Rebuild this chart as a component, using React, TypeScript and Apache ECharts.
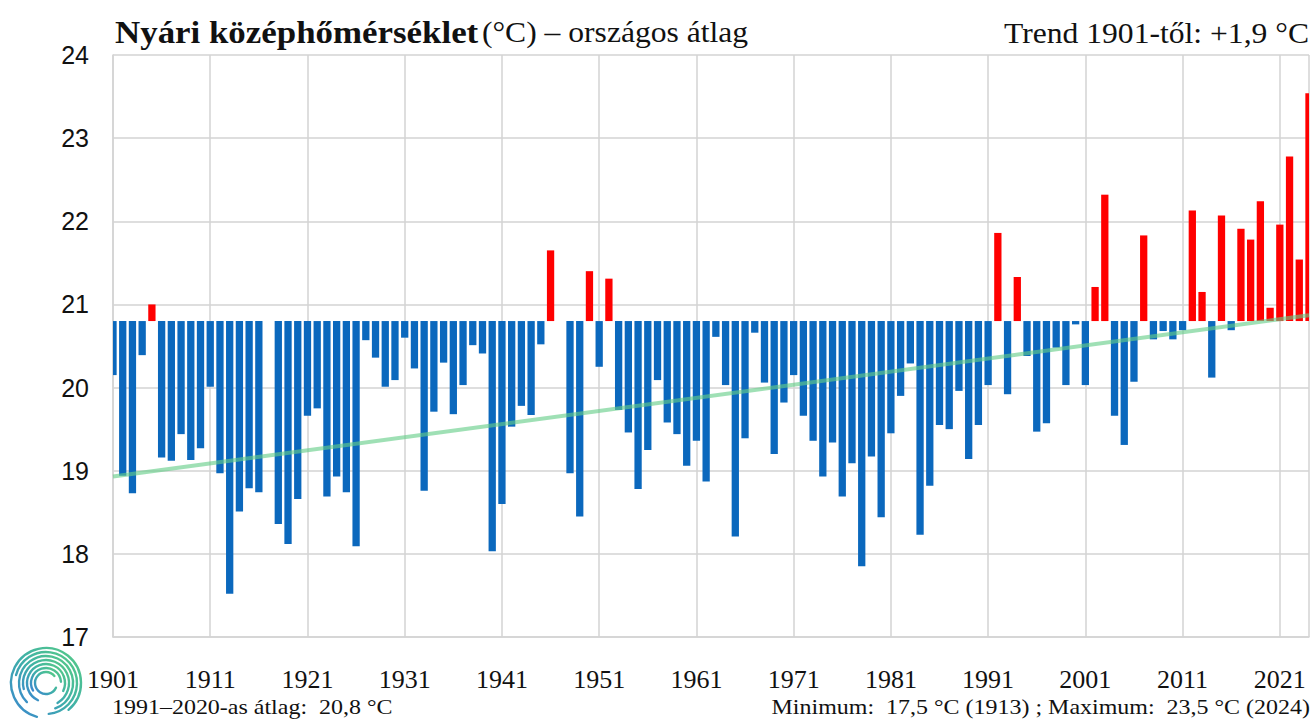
import { useEffect, useRef } from "react";
import * as echarts from "echarts";

// ---- data ----
const FIRST_YEAR = 1901;
const BASELINE = 20.8; // 1991–2020 average
const Y_MIN = 17;
const Y_MAX = 24;
const Y_STEP = 1;

const temps1901s = [20.15, 18.94, 18.73, 20.39, 21.0, 19.16, 19.12, 19.44, 19.13, 19.27];
const temps1911s = [20.01, 18.97, 17.52, 18.51, 18.79, 18.74, 20.8, 18.36, 18.12, 18.66];
const temps1921s = [19.66, 19.75, 18.69, 18.93, 18.74, 18.09, 20.57, 20.36, 20.01, 20.09];
const temps1931s = [20.6, 20.23, 18.76, 19.71, 20.3, 19.68, 20.03, 20.51, 20.41, 18.03];
const temps1941s = [18.6, 19.53, 19.78, 19.67, 20.52, 21.65, 20.8, 18.97, 18.45, 21.4];
const temps1951s = [20.25, 21.31, 19.73, 19.46, 18.78, 19.25, 20.09, 19.58, 19.44, 19.06];
const temps1961s = [19.36, 18.87, 20.61, 20.03, 18.21, 19.39, 20.66, 20.06, 19.2, 19.82];
const temps1971s = [20.15, 19.66, 19.36, 18.93, 19.34, 18.69, 19.09, 17.85, 19.17, 18.44];
const temps1981s = [19.45, 19.9, 20.29, 18.23, 18.82, 19.55, 19.5, 19.96, 19.14, 19.55];
const temps1991s = [20.03, 21.86, 19.92, 21.33, 20.38, 19.47, 19.57, 20.48, 20.03, 20.76];
const temps2001s = [20.03, 21.21, 22.32, 19.66, 19.31, 20.07, 21.83, 20.58, 20.68, 20.58];
const temps2011s = [20.69, 22.13, 21.15, 20.12, 22.07, 20.69, 21.91, 21.78, 22.24, 20.96];
const temps2021s = [21.96, 22.78, 21.54, 23.54];

const summerTemps = [
  ...temps1901s, ...temps1911s, ...temps1921s, ...temps1931s, ...temps1941s,
  ...temps1951s, ...temps1961s, ...temps1971s, ...temps1981s, ...temps1991s,
  ...temps2001s, ...temps2011s, ...temps2021s,
];
const years = summerTemps.map((_, i) => String(FIRST_YEAR + i));

const trendStart = 18.93; // 1901
const trendEnd = 20.87; // 2024

const titleBold = "Nyári középhőmérséklet";
const titleRest = "(°C) – országos átlag";
const trendText = "Trend 1901-től: +1,9 °C";
const avgText = "1991–2020-as átlag:  20,8 °C";
const extremesText = "Minimum:  17,5 °C (1913) ; Maximum:  23,5 °C (2024)";

// ---- styles ----
const SERIF = "'Liberation Serif', 'Times New Roman', serif";
const SANS = "'Liberation Sans', Arial, sans-serif";
const BLUE = "#0b68bd";
const RED = "#ff0000";
const GRID = "#d3d3d3";
const TEXT = "#111111";
const STRETCH = 1.09;

const rad = (d: number) => (d * Math.PI) / 180;

function logoArcs() {
  const cx = 46;
  const cy = 683;
  const grad = () =>
    new echarts.graphic.LinearGradient(0, 1, 1, 0, [
      { offset: 0, color: "#3a86cf" },
      { offset: 0.5, color: "#3fb0a8" },
      { offset: 1, color: "#57cc84" },
    ]);
  const arcs = [
    { r: 11, s: 25, e: 320 },
    { r: 15, s: 150, e: 355 },
    { r: 19, s: 115, e: 385 },
    { r: 23, s: 165, e: 420 },
    { r: 27, s: 135, e: 430 },
    { r: 31, s: 195, e: 445 },
    { r: 35, s: 105, e: 410 },
  ];
  return arcs.map((a) => ({
    type: "arc",
    shape: { cx, cy, r: a.r, startAngle: rad(a.s), endAngle: rad(a.e), clockwise: true },
    style: { stroke: grad(), lineWidth: 2.4, fill: "none", lineCap: "round" },
    z: 10,
  }));
}

export default function App() {
  const ref = useRef<HTMLDivElement>(null);

  useEffect(() => {
    if (!ref.current) return;
    const chart = echarts.init(ref.current, undefined, { renderer: "svg" });

    const renderItem = (_params: any, api: any) => {
      const idx = api.value(0);
      const v = api.value(1);
      const top = api.coord([idx, v]);
      const base = api.coord([idx, BASELINE]);
      const w = api.size([1, 0])[0] * 0.75;
      return {
        type: "rect",
        shape: {
          x: top[0] - w / 2,
          y: Math.min(top[1], base[1]),
          width: w,
          height: Math.abs(base[1] - top[1]),
        },
        style: { fill: v >= BASELINE ? RED : BLUE },
      };
    };

    const option: any = {
      animation: false,
      backgroundColor: "#ffffff",
      grid: { left: 113, right: 6, top: 55, bottom: 83 },
      xAxis: {
        type: "category",
        data: years,
        boundaryGap: false,
        axisLine: { show: true, lineStyle: { color: GRID, width: 1.5 } },
        axisTick: { show: false },
        axisLabel: {
          interval: (i: number) => i % 10 === 0,
          fontFamily: SERIF,
          fontSize: 26,
          color: TEXT,
          margin: 29,
        },
        splitLine: {
          show: true,
          interval: (i: number) => i % 10 === 0 || i === years.length - 1,
          lineStyle: { color: GRID, width: 1.5 },
        },
      },
      yAxis: {
        type: "value",
        min: Y_MIN,
        max: Y_MAX,
        interval: Y_STEP,
        axisLine: { show: true, lineStyle: { color: GRID, width: 1.5 } },
        axisTick: { show: false },
        axisLabel: { fontFamily: SANS, fontSize: 25, color: TEXT, margin: 24 },
        splitLine: { show: true, lineStyle: { color: GRID, width: 1.5 } },
      },
      series: [
        {
          type: "custom",
          clip: true,
          renderItem,
          data: summerTemps.map((v, i) => [i, v]),
          encode: { x: 0, y: 1 },
          z: 2,
        },
        {
          type: "line",
          data: [
            [years[0], trendStart],
            [years[years.length - 1], trendEnd],
          ],
          symbol: "none",
          lineStyle: { color: "rgba(100,205,135,0.62)", width: 4 },
          z: 3,
        },
      ],
      graphic: [
        {
          type: "text",
          x: 115,
          y: 32,
          scaleX: STRETCH,
          style: {
            text: `{b|${titleBold}} {r|${titleRest}}`,
            align: "left",
            verticalAlign: "middle",
            rich: {
              b: { fontFamily: SERIF, fontWeight: "bold", fontSize: 32, fill: TEXT },
              r: { fontFamily: SERIF, fontSize: 29, fill: TEXT },
            },
          },
        },
        {
          type: "text",
          x: 1309,
          y: 33,
          scaleX: STRETCH,
          style: {
            text: trendText,
            align: "right",
            verticalAlign: "middle",
            fontFamily: SERIF,
            fontSize: 29,
            fill: TEXT,
          },
        },
        {
          type: "text",
          x: 112,
          y: 706,
          scaleX: STRETCH,
          style: {
            text: avgText,
            align: "left",
            verticalAlign: "middle",
            fontFamily: SERIF,
            fontSize: 22,
            fill: TEXT,
          },
        },
        {
          type: "text",
          x: 1310,
          y: 706,
          scaleX: STRETCH,
          style: {
            text: extremesText,
            align: "right",
            verticalAlign: "middle",
            fontFamily: SERIF,
            fontSize: 22,
            fill: TEXT,
          },
        },
        ...logoArcs(),
      ],
    };

    chart.setOption(option);
    return () => chart.dispose();
  }, []);

  return (
    <div
      ref={ref}
      style={{ position: "fixed", left: 0, top: 0, width: 1315, height: 720, background: "#fff" }}
    />
  );
}
